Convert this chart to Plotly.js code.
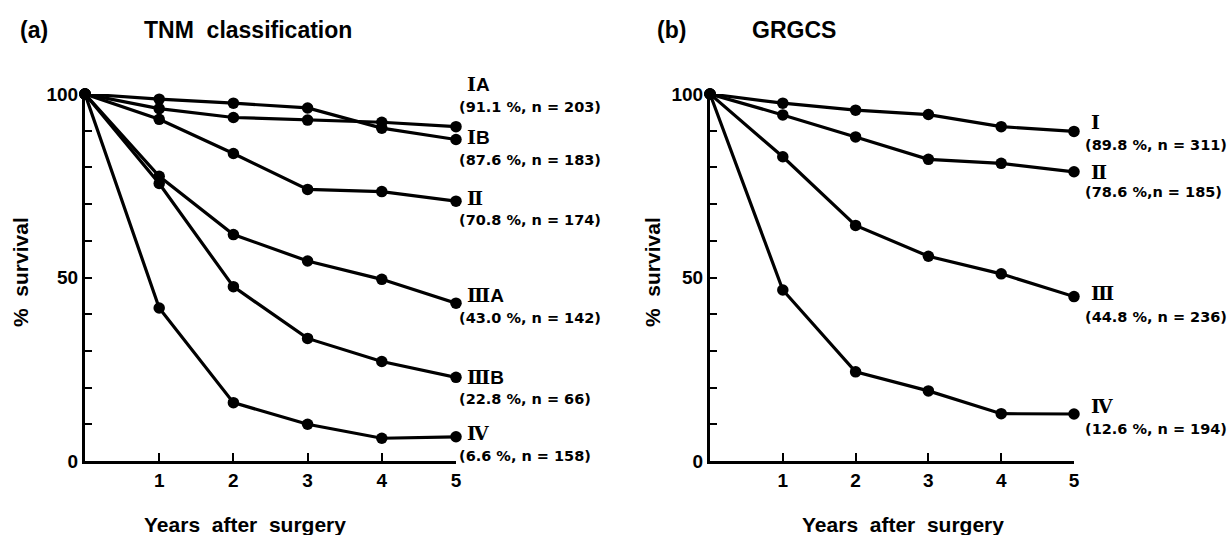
<!DOCTYPE html>
<html>
<head>
<meta charset="utf-8">
<script src="https://cdn.plot.ly/plotly-3.0.1.min.js"></script>
<style>html,body{margin:0;padding:0;background:#fff;}#chart{width:1230px;height:535px;}</style>
</head>
<body>
<div id="chart"></div>
<script>
// ---- data ----
const years = [0, 1, 2, 3, 4, 5];
const yearTicks = [1, 2, 3, 4, 5];

// (a) TNM classification
const tnmIA   = [100, 96.0, 93.6, 92.9, 92.3, 91.1];
const tnmIB   = [100, 98.6, 97.5, 96.2, 90.7, 87.6];
const tnmII   = [100, 93.1, 83.8, 74.0, 73.4, 70.8];
const tnmIIIA = [100, 77.6, 61.7, 54.5, 49.5, 43.0];
const tnmIIIB = [100, 75.6, 47.5, 33.4, 27.1, 22.8];
const tnmIV   = [100, 41.7, 15.9, 10.0, 6.2, 6.6];

// (b) GRGCS
const grI   = [100, 97.5, 95.6, 94.4, 91.1, 89.8];
const grII  = [100, 94.3, 88.3, 82.2, 81.1, 78.8];
const grIII = [100, 82.9, 64.2, 55.8, 51.0, 44.8];
const grIV  = [100, 46.6, 24.3, 19.1, 12.9, 12.8];

const tnmRoman  = ["\u2160", "\u2160", "\u2161", "\u2162", "\u2162", "\u2163"];
const tnmSuffix = ["A", "B", "", "A", "B", ""];
const tnmStats  = ["(91.1 %, n = 203)", "(87.6 %, n = 183)", "(70.8 %, n = 174)", "(43.0 %, n = 142)", "(22.8 %, n = 66)", "(6.6 %, n = 158)"];
const grRoman   = ["\u2160", "\u2161", "\u2162", "\u2163"];
const grStats   = ["(89.8 %, n = 311)", "(78.6 %,n = 185)", "(44.8 %, n = 236)", "(12.6 %, n = 194)"];

// ---- layout helpers ----
const W = 1230, H = 535;
const px = v => v / W;
const py = v => 1 - v / H;

function series(y, xa, ya) {
  return {
    x: years, y: y, xaxis: xa, yaxis: ya, type: 'scatter', mode: 'lines+markers',
    line: {color: '#000', width: 3.2},
    marker: {color: '#000', size: 11.5},
    cliponaxis: false, showlegend: false, hoverinfo: 'x+y'
  };
}

const traces = [
  ...[tnmIA, tnmIB, tnmII, tnmIIIA, tnmIIIB, tnmIV].map(s => series(s, 'x', 'y')),
  ...[grI, grII, grIII, grIV].map(s => series(s, 'x2', 'y2'))
];

const tickFont = {family: 'Liberation Sans, Arial, sans-serif', size: 19, color: '#000', weight: 'bold'};
function xAxis(dom) {
  return {
    domain: dom, range: [0, 5], showgrid: false, zeroline: false,
    showline: true, linecolor: '#000', linewidth: 3,
    tickvals: yearTicks, ticktext: yearTicks.map(String),
    ticks: 'inside', ticklen: 8, tickwidth: 2, tickcolor: '#000',
    tickfont: tickFont, fixedrange: true
  };
}
function yAxis(anchor) {
  return {
    domain: [py(461), py(94)], range: [0, 100], anchor: anchor,
    showgrid: false, zeroline: false,
    showline: true, linecolor: '#000', linewidth: 3,
    tick0: 0, dtick: 50, ticks: 'inside', ticklen: 7, tickwidth: 2, tickcolor: '#000',
    minor: {tick0: 0, dtick: 10, ticks: 'inside', ticklen: 7, tickwidth: 2, tickcolor: '#000'},
    tickfont: tickFont, fixedrange: true
  };
}

const annFont = {family: 'DejaVu Sans, sans-serif', size: 14.5, color: '#000', weight: 'bold'};
const labelFont = {family: 'Liberation Sans, Arial, sans-serif', size: 19, color: '#000', weight: 'bold'};
const ann = [];
function addText(text, x, y, font, xanchor) {
  ann.push({text: text, x: px(x), y: py(y), xref: 'paper', yref: 'paper',
            xanchor: xanchor || 'left', yanchor: 'middle', showarrow: false, font: font});
}
function romanLabel(r, suffix) {
  return '<span style="font-family:DejaVu Serif, serif;font-weight:bold">' + r + '</span>' + suffix;
}

// left labels
const tnmNameY  = [84, 137, 198, 295, 377, 433];
const tnmStatY  = [107, 160, 220, 318, 399, 456];
tnmRoman.forEach((t, i) => addText(romanLabel(t, tnmSuffix[i]), 465, tnmNameY[i], labelFont));
tnmStats.forEach((t, i) => addText(t, 457, tnmStatY[i], annFont));
// right labels
const grNameY = [122, 172, 293, 406];
const grStatY = [145, 192, 317, 429];
grRoman.forEach((t, i) => addText(romanLabel(t, ''), 1089, grNameY[i], labelFont));
grStats.forEach((t, i) => addText(t, 1083, grStatY[i], annFont));

// titles
const titleFont = {family: 'Liberation Sans, Arial, sans-serif', size: 23, color: '#000', weight: 'bold'};
addText('(a)', 18, 30, titleFont);
addText('TNM  classification', 142, 30, titleFont);
addText('(b)', 655, 30, titleFont);
addText('GRGCS', 750, 30, titleFont);

// axis titles
const axFont = {family: 'Liberation Sans, Arial, sans-serif', size: 21, color: '#000', weight: 'bold'};
addText('Years  after  surgery', 245, 524, axFont, 'center');
addText('Years  after  surgery', 903, 524, axFont, 'center');
ann.push({text: '%  survival', x: px(20), y: py(272), xref: 'paper', yref: 'paper', textangle: -90,
          xanchor: 'center', yanchor: 'middle', showarrow: false, font: axFont});
ann.push({text: '%  survival', x: px(652), y: py(272), xref: 'paper', yref: 'paper', textangle: -90,
          xanchor: 'center', yanchor: 'middle', showarrow: false, font: axFont});

const layout = {
  width: W, height: H,
  margin: {l: 0, r: 0, t: 0, b: 0},
  paper_bgcolor: '#fff', plot_bgcolor: '#fff',
  showlegend: false,
  xaxis: Object.assign(xAxis([px(85), px(456)]), {anchor: 'y'}),
  yaxis: yAxis('x'),
  xaxis2: Object.assign(xAxis([px(710), px(1074)]), {anchor: 'y2'}),
  yaxis2: yAxis('x2'),
  annotations: ann
};

Plotly.newPlot('chart', traces, layout, {displayModeBar: false, staticPlot: true});
</script>
</body>
</html>
